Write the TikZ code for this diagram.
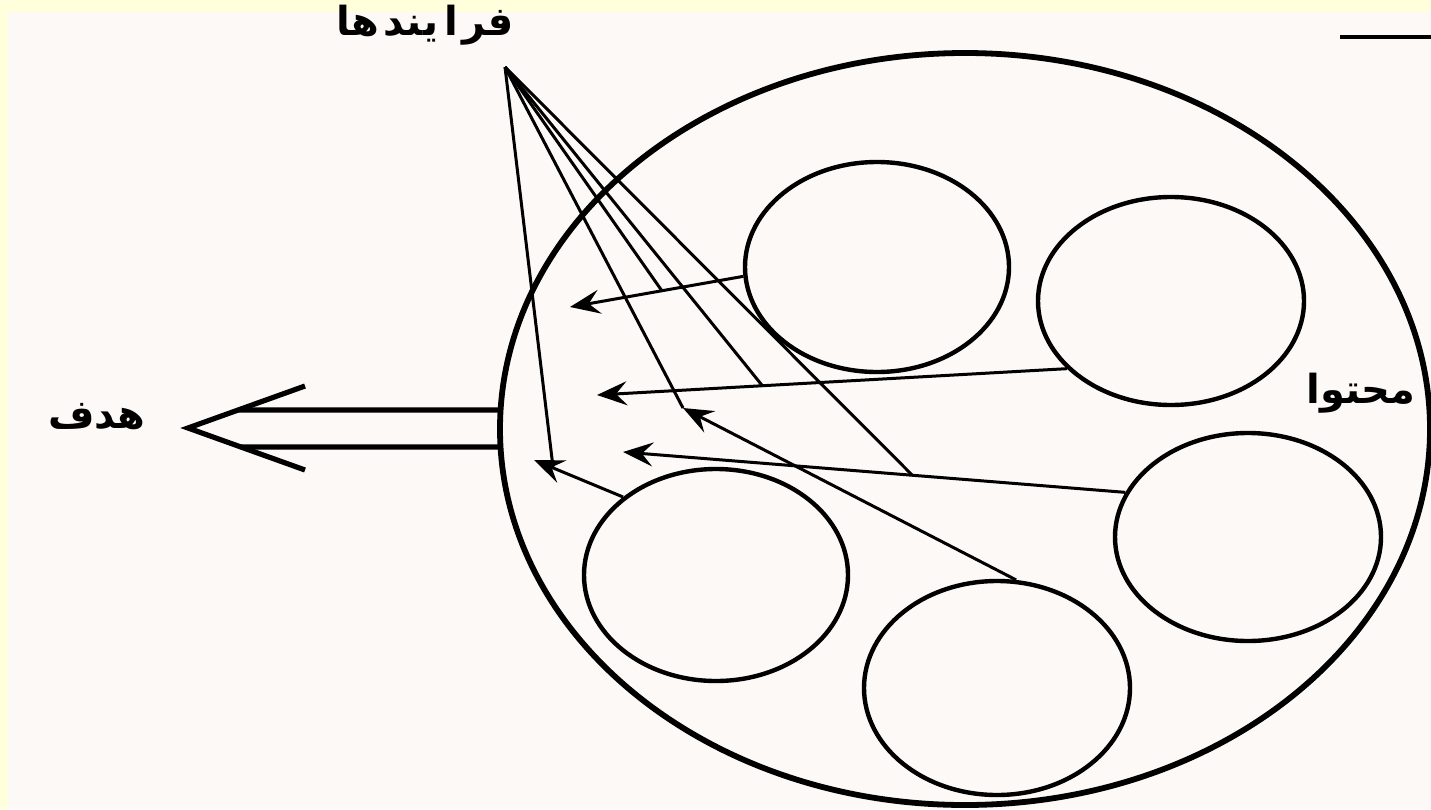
\documentclass[tikz,border=0pt]{standalone}
\usepackage{fontspec}
\usetikzlibrary{shapes.geometric,arrows.meta,calc}
\newfontfamily\arabicfont[Script=Arabic]{DejaVu Sans}
\TeXXeTstate=1
\definecolor{bgpink}{HTML}{FDF9F6}
\definecolor{bgyellow}{HTML}{FFFFDC}
\tikzset{
  ring/.style={draw=black, ellipse, inner sep=0pt, line width=4.4pt},
  bigring/.style={draw=black, ellipse, inner sep=0pt, line width=5.8pt},
  conn/.style={draw=black, line width=3pt},
  arr/.style={conn, -{Stealth[length=30pt,width=24pt,inset=11pt]}},
  goalline/.style={draw=black, line width=5.2pt},
  lbl/.style={inner sep=0pt, font=\arabicfont\bfseries\fontsize{40}{46}\selectfont},
}
\begin{document}
\begin{tikzpicture}[x=1pt,y=-1pt]
\useasboundingbox (0,0) rectangle (1431,809);
\fill[bgyellow] (0,0) rectangle (1431,809);
\fill[bgpink] (8,12) rectangle (1431,809);
% cut-off underline at top right
\draw[line width=4pt] (1340,37) -- (1431,37);

% big circle and inner circles
\node[bigring, minimum width=930pt, minimum height=752pt] (big) at (965,429) {};
\node[ring, minimum width=264pt, minimum height=210pt] (c1) at (877,267) {};
\node[ring, minimum width=266pt, minimum height=208pt] (c2) at (1171,301) {};
\node[ring, minimum width=266pt, minimum height=208pt] (c3) at (1248,537) {};
\node[ring, minimum width=264pt, minimum height=212pt] (c4) at (716,575) {};
\node[ring, minimum width=266pt, minimum height=214pt] (c5) at (997,688) {};

% labels
\node[lbl] (proc) at (425,25) {\beginR فر\hspace{5pt}ا\hspace{6pt}یند\hspace{5pt}ها\endR};
\node[lbl] (goal) at (97,417) {\beginR هدف\endR};
\node[lbl] (cont) at (1361,393) {\beginR محتوا\endR};

% arrow tips
\coordinate (tE) at (570,307);
\coordinate (tF) at (597,395);
\coordinate (tG) at (623,452);
\coordinate (tH) at (683,408);
\coordinate (tI) at (534,460);
\coordinate (ap) at (505,67);

% arrows from content circles
\draw[arr] (c1.184) -- (tE);
\draw[arr] (c2.213) -- (tF);
\draw[arr] (c3.160) -- (tG);
\draw[arr] (c5.80) -- (tH);
\draw[arr] (c4.140) -- (tI);

% process lines from apex
\coordinate (e3) at ($(c1.184)!0.47!(tE)$);
\coordinate (e4) at ($(c2.213)!0.648!(tF)$);
\coordinate (e5) at ($(c3.160)!0.424!(tG)$);
\coordinate (e1) at (553,467);
\draw[conn] (ap) -- (e1);
\draw[conn] (ap) -- (tH);
\draw[conn] (ap) -- (e3);
\draw[conn] (ap) -- (e4);
\draw[conn] (ap) -- (e5);

% goal double arrow
\coordinate (gtip) at (188,428);
\coordinate (gu) at (305,386);
\coordinate (gl) at (305,470);
\coordinate (bu) at (502,410);
\coordinate (bl) at (502,447);
\draw[goalline, line join=miter] (gu) -- (gtip) -- (gl);
\draw[goalline] (bu) -- ($(gtip)!0.43!(gu)$);
\draw[goalline] (bl) -- ($(gtip)!0.45!(gl)$);
\end{tikzpicture}
\end{document}
